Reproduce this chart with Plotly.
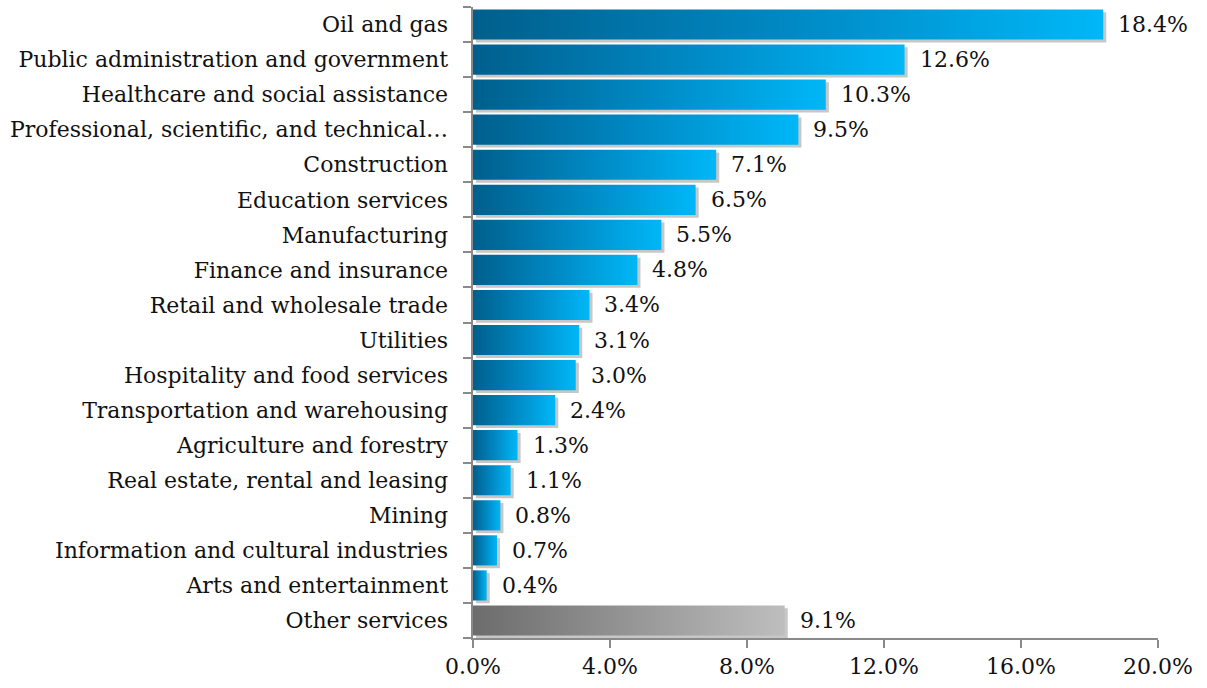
import plotly.graph_objects as go

# Share of employment by industry (%)
categories = [
    "Oil and gas",
    "Public administration and government",
    "Healthcare and social assistance",
    "Professional, scientific, and technical…",
    "Construction",
    "Education services",
    "Manufacturing",
    "Finance and insurance",
    "Retail and wholesale trade",
    "Utilities",
    "Hospitality and food services",
    "Transportation and warehousing",
    "Agriculture and forestry",
    "Real estate, rental and leasing",
    "Mining",
    "Information and cultural industries",
    "Arts and entertainment",
    "Other services",
]
values = [18.4, 12.6, 10.3, 9.5, 7.1, 6.5, 5.5, 4.8, 3.4, 3.1, 3.0, 2.4,
          1.3, 1.1, 0.8, 0.7, 0.4, 9.1]
x_ticks = [0, 4, 8, 12, 16, 20]
x_tick_labels = [f"{t:.1f}%" for t in x_ticks]

FONT = "DejaVu Serif"
AXIS_GREY = "#8a8a8a"
BLUE_SCALE = [[0, "#005f8c"], [0.5, "#0089c4"], [1, "#00b7f7"]]
GREY_SCALE = [[0, "#6c6c6c"], [1, "#bebebe"]]

HALF = 0.43          # half bar thickness in category units
SHADOW_DX = 0.09     # drop-shadow offset along x (percent units)
SHADOW_DY = 0.08     # drop-shadow offset along y (category units)

n = len(categories)
fig = go.Figure()

for i, (cat, v) in enumerate(zip(categories, values)):
    scale = GREY_SCALE if cat == "Other services" else BLUE_SCALE
    # soft drop shadow
    fig.add_trace(go.Scatter(
        x=[SHADOW_DX, v + SHADOW_DX, v + SHADOW_DX, SHADOW_DX, SHADOW_DX],
        y=[i - HALF + SHADOW_DY, i - HALF + SHADOW_DY, i + HALF + SHADOW_DY,
           i + HALF + SHADOW_DY, i - HALF + SHADOW_DY],
        fill="toself", mode="lines", line=dict(width=0),
        fillcolor="rgba(0,0,0,0.22)", hoverinfo="skip", showlegend=False,
    ))
    # gradient bar
    fig.add_trace(go.Scatter(
        x=[0, v, v, 0, 0],
        y=[i - HALF, i - HALF, i + HALF, i + HALF, i - HALF],
        fill="toself", mode="lines", line=dict(width=0),
        fillgradient=dict(type="horizontal", colorscale=scale),
        name=cat, hovertemplate=f"{cat}: {v:.1f}%<extra></extra>",
        showlegend=False,
    ))

# invisible trace carrying the boundary-tick axis
fig.add_trace(go.Scatter(
    x=values, y=list(range(n)), yaxis="y2", mode="markers",
    marker=dict(opacity=0), hoverinfo="skip", showlegend=False,
))

for i, v in enumerate(values):
    fig.add_annotation(
        x=v, y=i, text=f"{v:.1f}%", showarrow=False,
        xanchor="left", yanchor="middle", xshift=13,
        font=dict(family=FONT, size=22, color="#111111"),
    )

y_range = [n - 0.5, -0.5]

fig.update_layout(
    width=1207, height=688,
    margin=dict(l=473, r=49, t=7, b=50),
    paper_bgcolor="white", plot_bgcolor="white",
    font=dict(family=FONT, size=22, color="#111111"),
    xaxis=dict(
        range=[0, 20], tickvals=x_ticks, ticktext=x_tick_labels,
        ticks="outside", ticklen=8, tickwidth=2, tickcolor=AXIS_GREY,
        showline=True, linecolor=AXIS_GREY, linewidth=2,
        showgrid=False, zeroline=False, fixedrange=True,
    ),
    yaxis=dict(
        range=y_range, tickvals=list(range(n)), ticktext=categories,
        ticks="", showline=False, showgrid=False, zeroline=False,
        ticklabelstandoff=24, fixedrange=True,
    ),
    yaxis2=dict(
        range=y_range, overlaying="y", side="left",
        tickvals=[i - 0.5 for i in range(n + 1)], showticklabels=False,
        ticks="outside", ticklen=8, tickwidth=2, tickcolor=AXIS_GREY,
        showline=True, linecolor=AXIS_GREY, linewidth=2,
        showgrid=False, zeroline=False, fixedrange=True,
    ),
)

fig.write_html("out.html")
